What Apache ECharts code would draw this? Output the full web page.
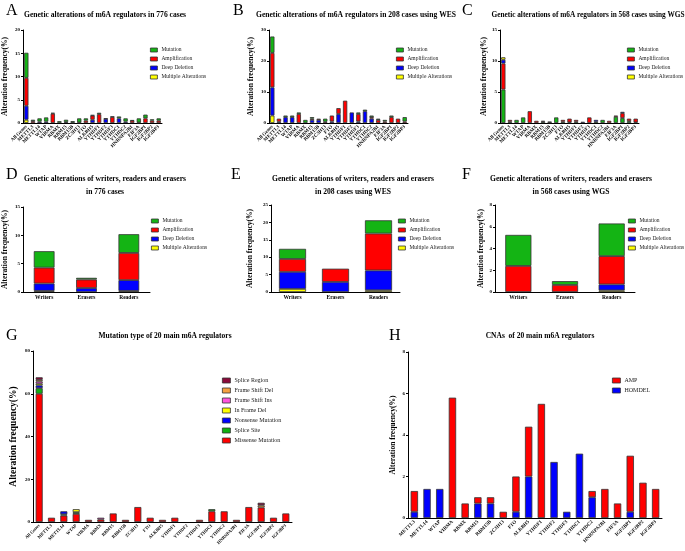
<!DOCTYPE html>
<html>
<head>
<meta charset="utf-8">
<script src="https://cdn.jsdelivr.net/npm/echarts@6/dist/echarts.min.js"></script>
<style>
  html, body { margin: 0; padding: 0; background: #fff; }
  #main { width: 685px; height: 551px; }
</style>
</head>
<body>
<div id="main"></div>
<script>
// categories
var genes21 = ['All Genes','METTL3','METTL14','WTAP','VIRMA','RBMX','RBM15','RBM15B','ZC3H13','FTO','ALKBH5',
  'YTHDF1','YTHDF2','YTHDF3','YTHDC1','YTHDC2','HNRNPA2B1','EIF3A','IGF2BP1','IGF2BP2','IGF2BP3'];
var genes20 = genes21.slice(1);
var groups = ['Writers','Erasers','Readers'];

// A - 776 cases
var aMulti = [0.7,0,0,0,0,0,0,0,0,0,0,0,0,0,0,0,0,0,0,0,0];
var aDeep  = [3.0,0,0.3,0.3,0,0,0.2,0,0,0,0.7,0,0.9,0,1.0,0.3,0,0,0,0,0];
var aAmp   = [6.0,0.4,0,0,2.0,0,0,0.1,0.1,0.5,0.9,1.9,0,1.3,0,0,0.5,0.1,1.0,0.5,0.5];
var aMut   = [5.4,0.3,0.7,0.9,0.2,0.4,0.5,0.3,0.9,0.5,0.1,0.3,0.1,0.1,0.4,0.7,0.1,0.9,0.8,0.3,0.5];

// B - 208 cases WES
var bMulti = [2.4,0,0,0,0,0,0,0,0,0,0,0,0,0,0,0,0,0,0,0,0];
var bDeep  = [9.1,0.4,1.9,1.9,0,0,1.0,1.0,0,0.5,2.9,0,3.4,0.5,3.8,1.4,0,0,0,0,0];
var bAmp   = [11.1,1.0,0,0,2.9,0,0.4,0.4,0.4,1.9,1.9,7.2,0,2.4,0,0.5,1.0,0.5,1.9,1.4,0.5];
var bMut   = [5.3,0,0.5,0.5,0.5,1.0,0.5,0,1.0,0,0,0,0,0.5,0.5,0.5,0.4,0.5,0.5,0,1.4];

// C - 568 cases WGS (mutation at the bottom)
var cMut   = [5.4,0.2,0.5,0.9,0,0,0.2,0.1,0.9,0.2,0.1,0.2,0,0,0.2,0.5,0,1.0,0.8,0.3,0.1];
var cAmp   = [4.2,0.3,0,0,1.9,0.35,0.15,0,0,0.3,0.6,0.3,0,0.9,0,0,0.35,0.2,0.8,0.4,0.6];
var cDeep  = [0.6,0,0,0,0,0,0,0.1,0,0,0,0,0.2,0,0.3,0,0,0,0.2,0,0];
var cMulti = [0.4,0,0,0,0,0,0,0,0,0,0,0,0,0,0,0,0,0,0,0,0];

// D, E, F - writers / erasers / readers
var dMulti = [0.2,0,0.2];
var dDeep  = [1.3,0.7,1.9];
var dAmp   = [2.8,1.5,4.8];
var dMut   = [2.9,0.3,3.3];

var eMulti = [0.9,0,0.5];
var eDeep  = [4.9,2.9,5.7];
var eAmp   = [3.7,3.8,10.6];
var eMut   = [2.9,0,3.8];

var fMulti = [0,0,0.15];
var fDeep  = [0,0,0.55];
var fAmp   = [2.4,0.65,2.6];
var fMut   = [2.85,0.35,3.0];

// G - mutation types
var gMissense    = [60,2,3,3.8,1,1.2,4,1,7,2,1,2,0,1,5,5,1,7,6.8,2,4];
var gSpliceSite  = [2.6,0,0.6,0.8,0,0,0,0,0,0,0,0,0,0,1,0,0,0,0,0,0];
var gNonsense    = [1.3,0,1.4,0,0,0,0,0,0,0,0,0,0,0,0,0,0,0,0,0,0];
var gInFrameDel  = [0.8,0,0,1.4,0,0,0,0,0,0,0,0,0,0,0,0,0,0,0,0,0];
var gFsIns       = [1.0,0,0,0,0,0.8,0,0,0,0,0,0,0,0,0,0,0,0,0,0,0];
var gFsDel       = [0.8,0,0,0,0,0,0,0,0,0,0,0,0,0,0,0,0,0,1.0,0,0];
var gSpliceReg   = [1.2,0,0,0,0,0,0,0,0,0,0,0,0,0,0,0,0,0,1.2,0,0];

// H - CNAs
var hHomdel = [0.3,1.4,1.4,0,0,0.7,0.7,0,0.3,2.0,0,2.7,0.3,3.1,1.0,0,0,0.3,0,0];
var hAmp    = [1.0,0,0,5.8,0.7,0.3,0.3,0.3,1.7,2.4,5.5,0,0,0,0.3,1.4,0.7,2.7,1.7,1.4];

var FONT = 'Liberation Serif';
var altNames = ['Mutation','Amplification','Deep Deletion','Multiple Alterations'];
var COL = {green:'#14b414', red:'#ff0000', blue:'#0000ff', yellow:'#ffff00'};

var chart = echarts.init(document.getElementById('main'));
var grids = [], xAxes = [], yAxes = [], series = [], legends = [], titles = [];

function addPanel(box, cats, yMax, yStep, o) {
  var idx = grids.length;
  grids.push({left: box[0], top: box[1], width: box[2], height: box[3]});
  xAxes.push({
    type: 'category', gridIndex: idx, data: cats,
    axisLine: {lineStyle: {color: '#000', width: 1}},
    axisTick: {alignWithLabel: true, length: 2, lineStyle: {color: '#000'}},
    axisLabel: {interval: 0, rotate: o.rotate, fontSize: o.xSize, fontFamily: FONT,
      fontWeight: 'bold', color: '#000', margin: 3}
  });
  yAxes.push({
    type: 'value', gridIndex: idx, min: 0, max: yMax, interval: yStep,
    name: 'Alteration frequency(%)', nameLocation: 'middle', nameGap: o.nameGap,
    nameTextStyle: {fontFamily: FONT, fontWeight: 'bold', fontSize: o.nameSize, color: '#000'},
    splitLine: {show: false},
    axisLine: {show: true, lineStyle: {color: '#000', width: 1}},
    axisTick: {show: true, length: 2, lineStyle: {color: '#000'}},
    axisLabel: {fontSize: o.ySize, fontFamily: FONT, fontWeight: 'bold', color: '#000', margin: 3}
  });
  return idx;
}

// stacks are listed bottom first
function addStack(idx, names, arrays, colors, barWidth) {
  names.forEach(function (n, k) {
    series.push({
      type: 'bar', name: n, xAxisIndex: idx, yAxisIndex: idx, stack: 's' + idx,
      barWidth: barWidth,
      data: arrays[k].map(function (v) { return v === 0 ? '-' : v; }),
      itemStyle: {color: colors[k], borderColor: '#333', borderWidth: 0.8}
    });
  });
}

function addLegend(left, top, names, o) {
  legends.push({
    orient: 'vertical', left: left, top: top, data: names, icon: 'rect',
    itemWidth: o.w, itemHeight: o.h, itemGap: o.gap, selectedMode: false,
    itemStyle: {borderColor: '#333', borderWidth: 0.8},
    textStyle: {fontFamily: FONT, fontSize: o.size, color: '#222', lineHeight: o.lh, padding: [0, 0, 0, -1]}
  });
}

function addTitle(text, x, y, size) {
  titles.push({text: text, left: x, top: y, textAlign: 'center',
    textStyle: {fontFamily: FONT, fontWeight: 'bold', fontSize: size, color: '#000', lineHeight: 13}});
}
function addLetter(ch, x, y) {
  titles.push({text: ch, left: x, top: y,
    textStyle: {fontFamily: FONT, fontWeight: 'normal', fontSize: 16, color: '#000'}});
}

var small = {rotate: 45, xSize: 5, ySize: 5, nameSize: 7.5};
var stdOrder = [COL.yellow, COL.blue, COL.red, COL.green];
var stdNames = ['Multiple Alterations','Deep Deletion','Amplification','Mutation'];
var legSmall = {w: 7, h: 4, gap: 3, size: 5.5, lh: 6};

// A
var ia = addPanel([22, 30, 140, 93], genes21, 20, 5, Object.assign({nameGap: 14}, small));
addStack(ia, stdNames, [aMulti, aDeep, aAmp, aMut], stdOrder, '65%');
addLegend(145, 42, altNames, legSmall);
addLetter('A', 1, -2); addTitle('Genetic alterations of m6A regulators in 776 cases', 100, 4, 7.6);

// B
var ib = addPanel([269, 30, 139, 93], genes21, 30, 10, Object.assign({nameGap: 14}, small));
addStack(ib, stdNames, [bMulti, bDeep, bAmp, bMut], stdOrder, '65%');
addLegend(391, 42, altNames, legSmall);
addLetter('B', 228, -2); addTitle('Genetic alterations of m6A regulators in 208 cases using WES', 351, 4, 7.6);

// C
var ic = addPanel([500, 30, 139, 93], genes21, 15, 5, Object.assign({nameGap: 12}, small));
addStack(ic, ['Mutation','Amplification','Deep Deletion','Multiple Alterations'],
  [cMut, cAmp, cDeep, cMulti], [COL.green, COL.red, COL.blue, COL.yellow], '65%');
addLegend(622, 42, altNames, legSmall);
addLetter('C', 457, -2); addTitle('Genetic alterations of m6A regulators in 568 cases using WGS', 583, 4, 7.3);

// D, E, F
var mid = {rotate: 0, xSize: 5.5, ySize: 5, nameSize: 7.5};
var id = addPanel([21, 207, 129, 85], groups, 15, 5, Object.assign({nameGap: 14}, mid));
addStack(id, stdNames, [dMulti, dDeep, dAmp, dMut], stdOrder, '49%');
addLegend(146, 213, altNames, legSmall);
addLetter('D', 1, 162); addTitle('Genetic alterations of writers, readers and erasers\nin 776 cases', 100, 168, 7.6);

var ie = addPanel([271, 205, 129, 87], groups, 25, 5, Object.assign({nameGap: 17}, mid));
addStack(ie, stdNames, [eMulti, eDeep, eAmp, eMut], stdOrder, '63%');
addLegend(393, 213, altNames, legSmall);
addLetter('E', 226, 162); addTitle('Genetic alterations of writers, readers and erasers\nin 208 cases using WES', 348, 168, 7.6);

var iF = addPanel([495, 205, 140, 87], groups, 8, 2, Object.assign({nameGap: 10}, mid));
addStack(iF, stdNames, [fMulti, fDeep, fAmp, fMut], stdOrder, '56%');
addLegend(623, 213, altNames, legSmall);
addLetter('F', 457, 162); addTitle('Genetic alterations of writers, readers and erasers\nin 568 cases using WGS', 566, 168, 7.6);

// G
var gNames = ['Missense Mutation','Splice Site','Nonsense Mutation','In Frame Del','Frame Shift Ins','Frame Shift Del','Splice Region'];
var ig = addPanel([33, 351, 259, 171], genes21, 80, 20, {rotate: 45, xSize: 4.5, ySize: 5, nameSize: 9.5, nameGap: 14});
addStack(ig, gNames, [gMissense, gSpliceSite, gNonsense, gInFrameDel, gFsIns, gFsDel, gSpliceReg],
  ['#ff0000', '#10b010', '#0000ff', '#ffff00', '#ff55dd', '#f5a040', '#8b0a3a'], '57%');
addLegend(217, 372, gNames.slice().reverse(), {w: 8, h: 5, gap: 3, size: 6, lh: 7});
addLetter('G', 1, 323); addTitle('Mutation type of 20 main m6A regulators', 160, 325, 7.5);

// H
var ih = addPanel([408, 352, 254, 166], genes20, 8, 2, {rotate: 45, xSize: 5, ySize: 5, nameSize: 7.5, nameGap: 11});
addStack(ih, ['HOMDEL', 'AMP'], [hHomdel, hAmp], ['#0000ff', '#ff0000'], '58%');
addLegend(607, 372, ['AMP', 'HOMDEL'], {w: 8, h: 5, gap: 3, size: 6, lh: 7});
addLetter('H', 384, 323); addTitle('CNAs  of 20 main m6A regulators', 535, 325, 7.5);

chart.setOption({
  animation: false,
  backgroundColor: '#fff',
  title: titles,
  grid: grids,
  xAxis: xAxes,
  yAxis: yAxes,
  legend: legends,
  series: series
});
</script>
</body>
</html>
